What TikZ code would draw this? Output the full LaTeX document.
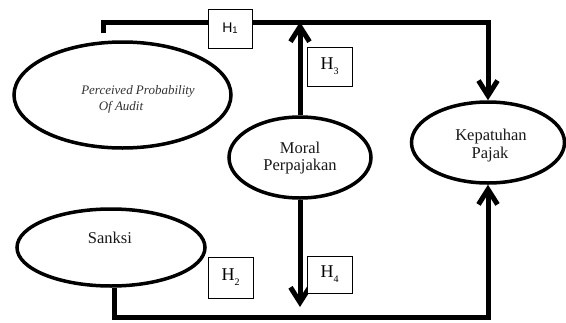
\documentclass[tikz,border=0pt]{standalone}
\usepackage{fontspec}
\setmainfont{Liberation Serif}
\newfontfamily\hsans{Liberation Sans}
\usetikzlibrary{shapes.geometric,arrows.meta}
\begin{document}
\begin{tikzpicture}[x=1pt,y=-1pt,
  oval/.style={draw,ellipse,line width=3.5pt,inner sep=0pt},
  conn/.style={line width=5pt},
  arr/.style={conn,-{Straight Barb[length=15pt,width=19pt]}},
  hbox/.style={draw,fill=white,line width=0.8pt,inner sep=0pt},
  lbl/.style={font=\fontsize{16.5}{19}\selectfont,inner sep=0pt,anchor=base,text=black!90},
  ilbl/.style={font=\fontsize{13}{15}\selectfont\itshape,inner sep=0pt,anchor=base,text=black!80},
  htxt/.style={font=\fontsize{18}{18}\selectfont}
]
\useasboundingbox (0,0) rectangle (566,322);
\fill[white] (0,0) rectangle (566,322);
% ellipses
\node[oval,minimum width=217pt,minimum height=106pt] (ppa) at (122.5,95) {};
\node[oval,minimum width=188pt,minimum height=77pt] (sanksi) at (111,247.5) {};
\node[oval,minimum width=142pt,minimum height=81pt] (moral) at (300,157.5) {};
\node[oval,minimum width=153pt,minimum height=81pt] (kp) at (488,142.5) {};
% texts
\node[ilbl] (ppa1) at (138,94) {Perceived Probability};
\node[ilbl] (ppa2) at (121,110) {Of Audit};
\node[lbl] (mo1) at (300,153) {Moral};
\node[lbl] (mo2) at (300,170) {Perpajakan};
\node[lbl] (kp1) at (491,140) {Kepatuhan};
\node[lbl] (kp2) at (490,158) {Pajak};
\node[lbl] (sa1) at (110,243) {Sanksi};
% connectors
\coordinate (ppaend) at (103,33);
\coordinate (topy) at (0,22);
\coordinate (boty) at (0,317);
\coordinate (m4) at (300,307);
\draw[arr] (ppaend) -- (ppaend |- topy) -- (kp.north |- topy) -- (kp.north);
\draw[arr] (moral.north) -- (moral.north |- topy);
\draw[arr] (moral.south) -- (m4);
\draw[arr] ([xshift=3pt]sanksi.south) -- ([xshift=3pt]sanksi.south |- boty) -- (kp.south |- boty) -- (kp.south);
% hypothesis boxes
\node[hbox,minimum width=44pt,minimum height=39pt] (h1) at (230,28.5)
  {\hsans\fontsize{14}{14}\selectfont H\raisebox{-1pt}{\fontsize{9.5}{9.5}\selectfont 1}};
\node[hbox,minimum width=45pt,minimum height=39pt] (h3) at (329.5,66.5)
  {\fontsize{18}{18}\selectfont H\raisebox{-5pt}{\fontsize{10}{10}\selectfont 3}};
\node[hbox,minimum width=45pt,minimum height=41pt] (h2) at (230.5,277.5)
  {\fontsize{18}{18}\selectfont H\raisebox{-5pt}{\fontsize{10}{10}\selectfont 2}};
\node[hbox,minimum width=45pt,minimum height=37pt] (h4) at (329.5,274.5)
  {\fontsize{18}{18}\selectfont H\raisebox{-5pt}{\fontsize{10}{10}\selectfont 4}};
\end{tikzpicture}
\end{document}
